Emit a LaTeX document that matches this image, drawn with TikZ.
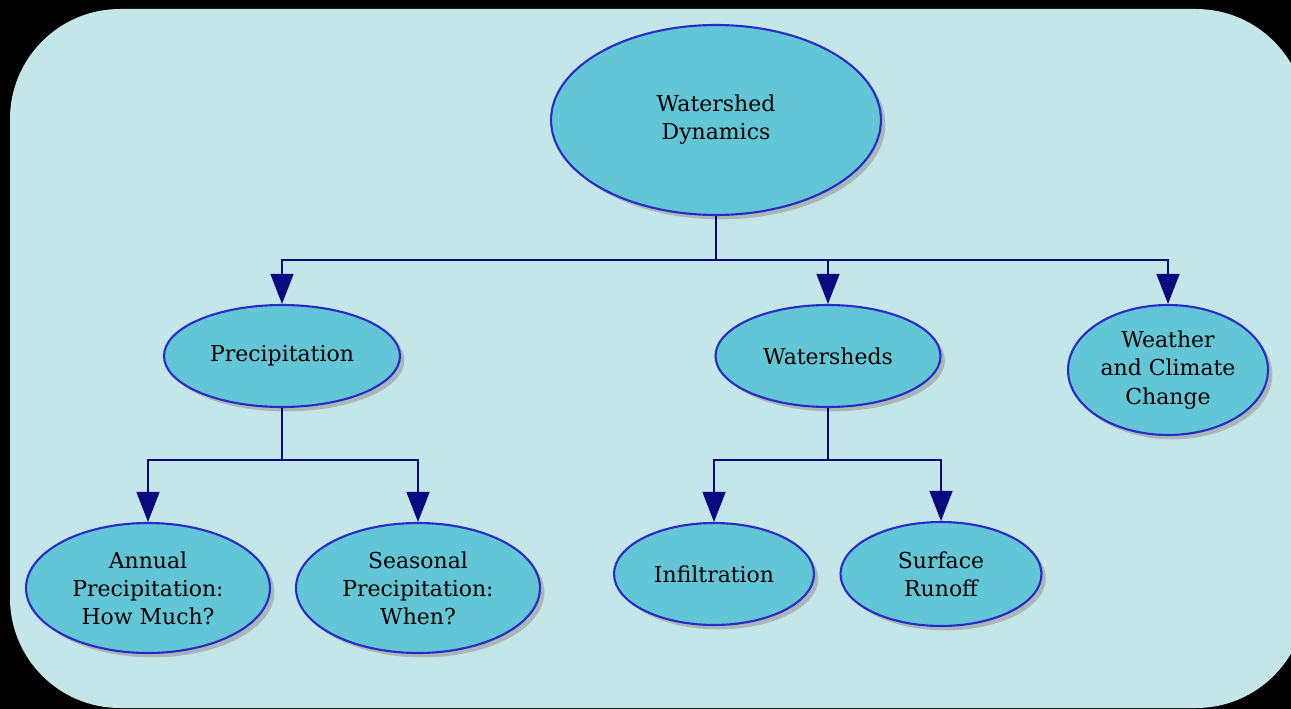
\documentclass[tikz,border=0pt]{standalone}
\usepackage{fontspec}
\setmainfont{DejaVu Serif}
\usetikzlibrary{arrows.meta, shapes.geometric, shadows}
\definecolor{bgc}{HTML}{C5E6E8}
\definecolor{ellfill}{HTML}{62C6D6}
\definecolor{ellline}{HTML}{2A2AC8}
\definecolor{navy}{HTML}{0A0A80}

\begin{document}
\begin{tikzpicture}[
        x=0.02cm, y=-0.02cm,
        topic/.style={ellipse, draw=ellline, line width=1.2pt, fill=ellfill,
            align=center, inner sep=0pt, font=\fontsize{12.5}{16}\selectfont,
            drop shadow={shadow xshift=2.5pt, shadow yshift=-2.5pt, fill=black!45, opacity=0.5}},
        link/.style={navy, line width=0.8pt},
        arr/.style={link, -{Triangle[width=0.46cm, length=0.6cm]}}
    ]
        % Nền
        \fill[black] (0,0) rectangle (1291,709);
        \begin{scope}
            \clip (0,0) rectangle (1291,709);
            \fill[bgc, rounded corners=2.2cm] (10,9) rectangle (1306,708);
        \end{scope}

        % Các nút
        \node[topic, minimum width=6.6cm, minimum height=3.8cm] (root) at (716,120) {Watershed\\Dynamics};
        \node[topic, minimum width=4.72cm, minimum height=2.04cm] (prec) at (282,356) {Precipitation};
        \node[topic, minimum width=4.5cm, minimum height=2.04cm] (wsheds) at (828,356) {Watersheds};
        \node[topic, minimum width=4.0cm, minimum height=2.6cm] (climate) at (1168,370) {Weather\\and Climate\\Change};
        \node[topic, minimum width=4.88cm, minimum height=2.6cm] (annual) at (148,588) {Annual\\Precipitation:\\How Much?};
        \node[topic, minimum width=4.88cm, minimum height=2.6cm] (seasonal) at (418,588) {Seasonal\\Precipitation:\\When?};
        \node[topic, minimum width=4.0cm, minimum height=2.04cm] (infil) at (714,574) {Infiltration};
        \node[topic, minimum width=4.02cm, minimum height=2.08cm] (runoff) at (941,574) {Surface\\Runoff};

        % Các điểm rẽ nhánh
        \coordinate (b1) at (716,260);
        \coordinate (b2) at (282,460);
        \coordinate (b3) at (828,460);

        % Các liên kết
        \draw[link] (root.south) -- (b1);
        \draw[arr] (b1) -| (prec.north);
        \draw[arr] (b1) -| (wsheds.north);
        \draw[arr] (b1) -| (climate.north);
        \draw[link] (prec.south) -- (b2);
        \draw[arr] (b2) -| (annual.north);
        \draw[arr] (b2) -| (seasonal.north);
        \draw[link] (wsheds.south) -- (b3);
        \draw[arr] (b3) -| (infil.north);
        \draw[arr] (b3) -| (runoff.north);
    \end{tikzpicture}
\end{document}
